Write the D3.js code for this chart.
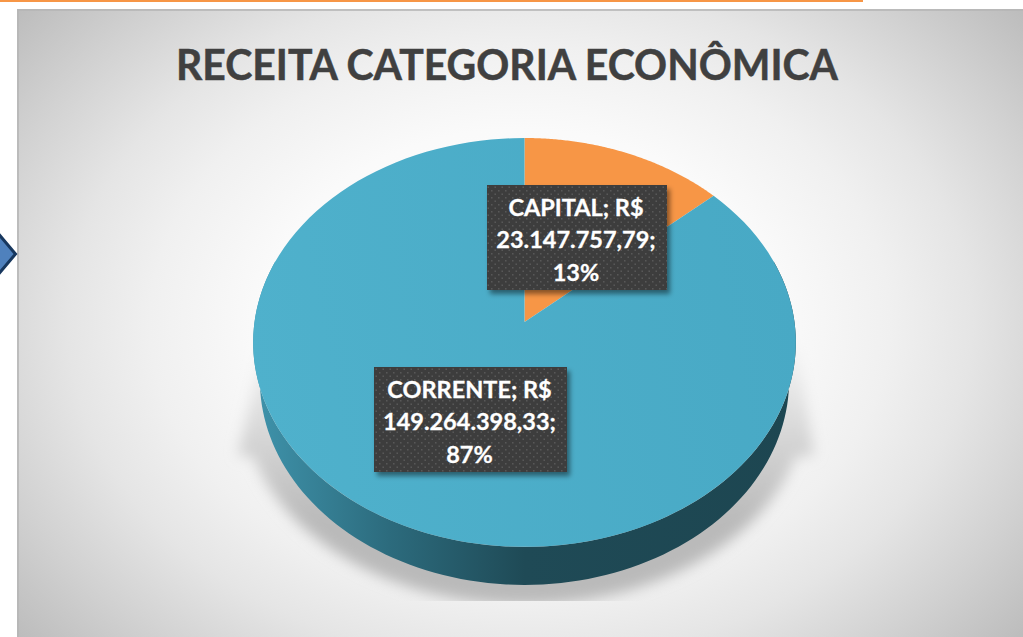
<!DOCTYPE html>
<html>
<head>
<meta charset="utf-8">
<script src="https://cdn.jsdelivr.net/npm/d3@7"></script>
<style>
  html, body { margin: 0; padding: 0; background: #fff; overflow: hidden; }
  text { font-family: Lato, "Open Sans", sans-serif; font-weight: 700; }
</style>
</head>
<body>
<div id="chart"></div>
<script>
var categories = ["CAPITAL", "CORRENTE"];
var values     = [23147757.79, 149264398.33];
var title      = "RECEITA CATEGORIA ECONÔMICA";

var width  = 1023;
var height = 637;

// pie is a tilted disc: the centre sits above the middle of the ellipse
var cx = 524.5, cy = 322, rx = 270, ry = 202.4, persp = 0.1, depth = 38;
var colors = { CAPITAL: "#f79646", CORRENTE: "url(#topBlue)" };

var boxes = {
  CAPITAL:  { x: 487, y: 185, w: 180, h: 105 },
  CORRENTE: { x: 374, y: 367, w: 193, h: 105 }
};

var brl = d3.formatLocale({
  decimal: ",", thousands: ".", grouping: [3], currency: ["R$ ", ""]
}).format(",.2f");
var pct = d3.format(".0%");
var total = d3.sum(values);

var svg = d3.select("#chart").append("svg")
  .attr("width", width)
  .attr("height", height)
  .style("display", "block");

var defs = svg.append("defs");

// elliptical background glow
var bg = defs.append("radialGradient").attr("id", "bg")
  .attr("gradientUnits", "userSpaceOnUse")
  .attr("cx", 0).attr("cy", 0).attr("r", 655)
  .attr("gradientTransform", "translate(520,323) scale(1,0.75)");
[[0, "#ffffff"], [0.395, "#fafafa"], [0.565, "#f0f0f0"], [0.69, "#e5e5e5"], [0.845, "#d1d1d1"], [1, "#bcbcbc"]]
  .map((s) => bg.append("stop").attr("offset", s[0]).attr("stop-color", s[1]));

var side = defs.append("linearGradient").attr("id", "side")
  .attr("gradientUnits", "userSpaceOnUse")
  .attr("x1", 254).attr("x2", 796).attr("y1", 0).attr("y2", 0);
side.append("stop").attr("offset", "0").attr("stop-color", "#3f93ab");
side.append("stop").attr("offset", "0.25").attr("stop-color", "#2c6b7d");
side.append("stop").attr("offset", "0.5").attr("stop-color", "#1f4a56");
side.append("stop").attr("offset", "1").attr("stop-color", "#1d4651");

var topBlue = defs.append("linearGradient").attr("id", "topBlue")
  .attr("gradientUnits", "userSpaceOnUse")
  .attr("x1", 254).attr("x2", 796).attr("y1", 400).attr("y2", 300);
topBlue.append("stop").attr("offset", "0").attr("stop-color", "#4fb1cc");
topBlue.append("stop").attr("offset", "1").attr("stop-color", "#48a9c5");

// shadow fades out towards the top of the flare
var floorFade = defs.append("linearGradient").attr("id", "floorFade")
  .attr("gradientUnits", "userSpaceOnUse")
  .attr("x1", 0).attr("x2", 0).attr("y1", 340).attr("y2", 520);
floorFade.append("stop").attr("offset", "0").attr("stop-color", "#f8f8f8");
floorFade.append("stop").attr("offset", "0.6").attr("stop-color", "#d2d2d2");
floorFade.append("stop").attr("offset", "1").attr("stop-color", "#bababa");

defs.append("filter").attr("id", "blur")
  .attr("x", "-10%").attr("y", "-10%").attr("width", "120%").attr("height", "120%")
  .append("feGaussianBlur").attr("stdDeviation", 7);

defs.append("clipPath").attr("id", "floor")
  .append("rect").attr("x", 17).attr("y", 9).attr("width", 1006).attr("height", 592);

var dots = defs.append("pattern").attr("id", "dots")
  .attr("patternUnits", "userSpaceOnUse")
  .attr("width", 7).attr("height", 7);
dots.append("rect").attr("width", 7).attr("height", 7).attr("fill", "#3d3d3d");
dots.append("rect").attr("x", 1).attr("y", 1).attr("width", 1.5).attr("height", 1.5).attr("fill", "#585858");
dots.append("rect").attr("x", 4.5).attr("y", 4.5).attr("width", 1.5).attr("height", 1.5).attr("fill", "#585858");

var boxShadow = defs.append("filter").attr("id", "boxShadow")
  .attr("x", "-10%").attr("y", "-10%").attr("width", "125%").attr("height", "130%");
boxShadow.append("feDropShadow")
  .attr("dx", 3).attr("dy", 4).attr("stdDeviation", 2.5)
  .attr("flood-color", "#000").attr("flood-opacity", 0.45);

// page furniture
svg.append("rect").attr("x", 0).attr("y", 0).attr("width", 863).attr("height", 2).attr("fill", "#f79646");

var plate = svg.append("g");
plate.append("rect").attr("x", 17).attr("y", 9).attr("width", 1006).attr("height", 628).attr("fill", "url(#bg)");
plate.append("rect").attr("x", 17).attr("y", 9).attr("width", 1006).attr("height", 2).attr("fill", "#b5b5b5").attr("opacity", 0.8);
plate.append("rect").attr("x", 17).attr("y", 9).attr("width", 2).attr("height", 628).attr("fill", "#b5b5b5").attr("opacity", 0.8);

svg.append("path")
  .attr("d", "M-24,232 L-3,232 L15.5,254 L-3,276 L-24,276 Z")
  .attr("fill", "#4f81bd").attr("stroke", "#17375e").attr("stroke-width", 3);

svg.append("text")
  .attr("x", 507).attr("y", 80)
  .attr("text-anchor", "middle")
  .attr("font-size", 42)
  .attr("fill", "#404040")
  .attr("stroke", "#404040")
  .attr("stroke-width", 0.5)
  .attr("textLength", 662)
  .attr("lengthAdjust", "spacingAndGlyphs")
  .text(title);

// point on the disc rim at pie angle a, shift dy down, scale s
function rim(a, r, dy, s) {
  var u = Math.sin(a) * r, v = Math.cos(a) * r, w = 1 + persp * v;
  return [cx + s * rx * u / w, cy + dy - ry * v / w];
}

function arcPoints(a0, a1, dy, s) {
  return d3.range(0, 121).map((i) => rim(a0 + (a1 - a0) * i / 120, 1, dy, s));
}

var line = d3.line();

// floor shadow
var shadowPts = [[264, 340], [238, 455]]
  .concat(arcPoints(Math.PI * 1.38, Math.PI * 0.62, depth + 20, 1.04))
  .concat([[814, 455], [797, 340]]);
svg.append("g").attr("clip-path", "url(#floor)")
  .append("path")
  .attr("d", line(shadowPts) + "Z")
  .attr("fill", "url(#floorFade)")
  .attr("filter", "url(#blur)");

// side wall
var wall = arcPoints(Math.PI * 0.4, Math.PI * 1.6, depth, 0.975)
  .concat(arcPoints(Math.PI * 1.6, Math.PI * 0.4, 0, 1));
svg.append("path").attr("d", line(wall) + "Z").attr("fill", "url(#side)");

// top face
var pie = d3.pie().sort(null).value((d) => d);
var slices = pie(values);

svg.append("g").selectAll("path")
  .data(slices)
  .join("path")
    .attr("d", (d) => line([[cx, cy]].concat(arcPoints(d.startAngle, d.endAngle, 0, 1))) + "Z")
    .attr("fill", (d, i) => colors[categories[i]]);

// data labels
var labels = svg.append("g").selectAll("g")
  .data(categories)
  .join("g");

labels.append("rect")
  .attr("x", (d) => boxes[d].x)
  .attr("y", (d) => boxes[d].y)
  .attr("width", (d) => boxes[d].w)
  .attr("height", (d) => boxes[d].h)
  .attr("fill", "url(#dots)")
  .attr("filter", "url(#boxShadow)");

labels.each(function (d, i) {
  var rows = [d + "; R$", brl(values[i]) + ";", pct(values[i] / total)];
  var b = boxes[d];
  d3.select(this).selectAll("text")
    .data(rows)
    .join("text")
      .attr("x", b.x + b.w / 2 - 1)
      .attr("y", (t, j) => b.y + 30.5 + j * 32.5)
      .attr("text-anchor", "middle")
      .attr("font-size", 23.5)
      .attr("fill", "#ffffff")
      .attr("stroke", "#ffffff")
      .attr("stroke-width", 0.3)
      .text((t) => t);
});
</script>
</body>
</html>
